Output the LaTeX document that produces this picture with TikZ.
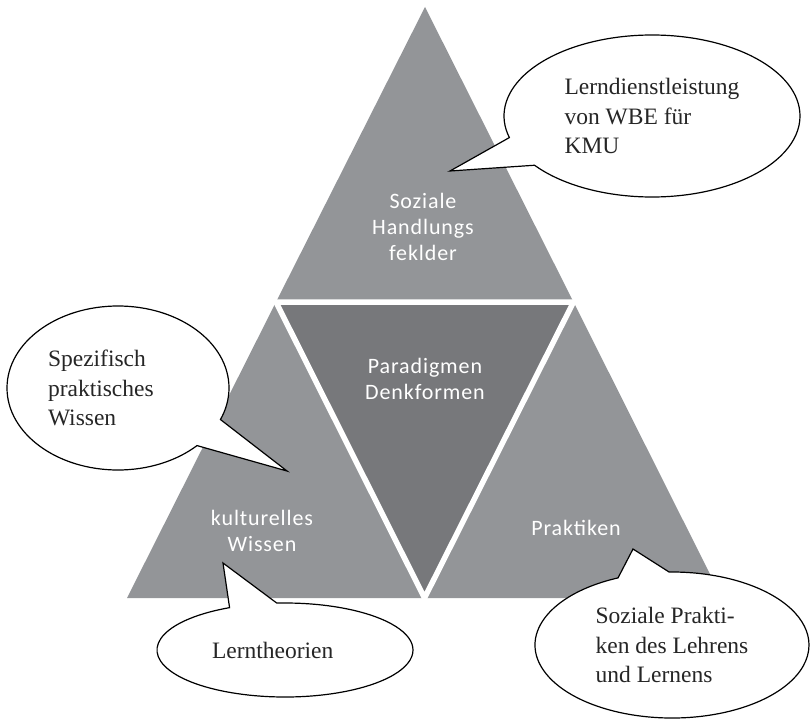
\documentclass[tikz,border=0pt]{standalone}
\usepackage{fontspec}
\setmainfont{Liberation Serif}
\newfontfamily\sidefont[LetterSpace=4]{Carlito}
\usepackage{tikz}
\usetikzlibrary{shapes.callouts}

\definecolor{sidegray}{RGB}{147,149,152}
\definecolor{coregray}{RGB}{119,120,123}

\begin{document}
\begin{tikzpicture}[x=1pt,y=-1pt,
  field/.style={text=white,align=center,font=\sidefont\fontsize{22}{26}\selectfont},
  bubble/.style={ellipse callout,draw=black,fill=white,line width=1.2pt,inner sep=0pt,
    callout pointer arc=22,align=left,text=black!85,font=\fontsize{23.5}{29.5}\selectfont}]
  \useasboundingbox (0,0) rectangle (811,722);
  \coordinate (t) at (425,7);
  \coordinate (l) at (127,598);
  \coordinate (r) at (722,598);
  \coordinate (tl) at (276,302);
  \coordinate (tr) at (573.5,302);
  \coordinate (lr) at (424.5,598);
  \fill[sidegray] (t) -- (tl) -- (tr) -- cycle;
  \fill[sidegray] (tl) -- (l) -- (lr) -- cycle;
  \fill[sidegray] (tr) -- (lr) -- (r) -- cycle;
  \fill[coregray] (tl) -- (tr) -- (lr) -- cycle;
  \draw[white,line width=5.5pt,line join=round] (tl) -- (tr) -- (lr) -- cycle;
  \node[field] (felder) at (423,227) {Soziale\\Handlungs\\feklder};
  \node[field] (paradigmen) at (425,379) {Paradigmen\\Denkformen};
  \node[field] (wissen) at (262,531) {kulturelles\\Wissen};
  \node[field] (praktiken) at (576,528) {Praktiken};
  % sprechblasen
  \coordinate (p1) at (450,171);
  \coordinate (p2) at (287,471);
  \coordinate (p3) at (223,563);
  \coordinate (p4) at (633,549);
  \node[bubble,minimum width=296pt,minimum height=162pt,callout absolute pointer={(p1)}]
    (wbe) at (652,116) {Lerndienstleistung\\von WBE für\\KMU};
  \node[bubble,minimum width=222pt,minimum height=164pt,text width=140pt,callout absolute pointer={(p2)}]
    (spez) at (118,388) {Spezifisch\\praktisches\\Wissen};
  \node[bubble,minimum width=256pt,minimum height=94pt,text width=146pt,callout absolute pointer={(p3)}]
    (theorie) at (285,650) {Lerntheorien};
  \node[bubble,minimum width=274pt,minimum height=146pt,callout absolute pointer={(p4)}]
    (sozprak) at (672,645) {Soziale Prakti-\\ken des Lehrens\\und Lernens};
\end{tikzpicture}
\end{document}
